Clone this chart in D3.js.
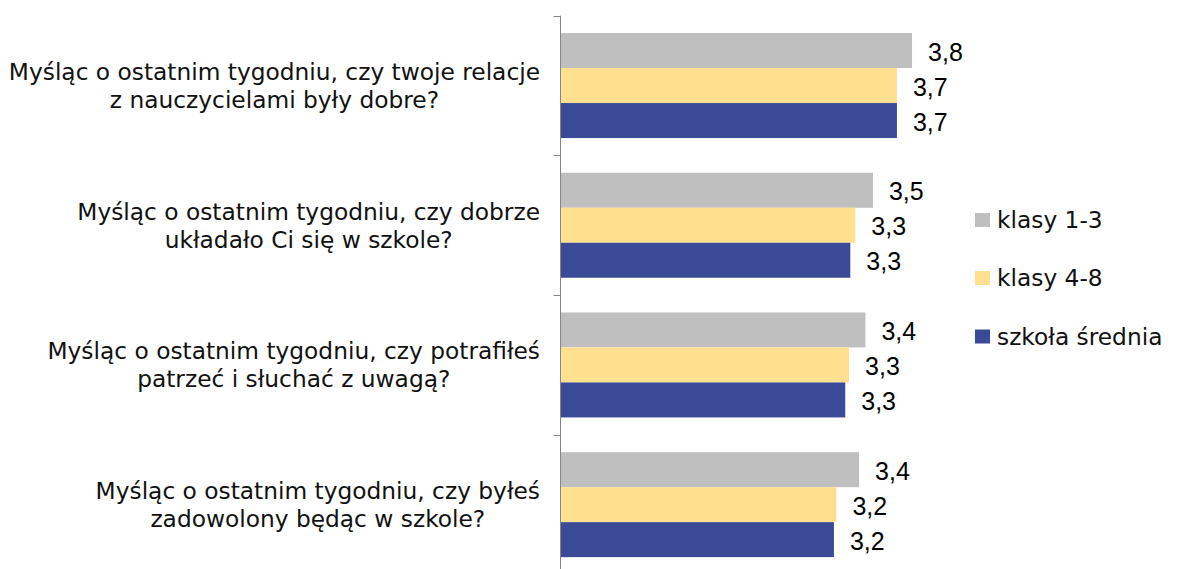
<!DOCTYPE html>
<html>
<head>
<meta charset="utf-8">
<script src="https://cdn.jsdelivr.net/npm/d3@7"></script>
<style>
  html, body { margin: 0; padding: 0; background: #fff; }
  svg { display: block; }
</style>
</head>
<body>
<svg id="chart" width="1178" height="569"></svg>
<script>
// Survey questions (line breaks mark where the label wraps)
const categories = [
  "Myśląc o ostatnim tygodniu, czy twoje relacje\nz nauczycielami były dobre?",
  "Myśląc o ostatnim tygodniu, czy dobrze\nukładało Ci się w szkole?",
  "Myśląc o ostatnim tygodniu, czy potrafiłeś\npatrzeć i słuchać z uwagą?",
  "Myśląc o ostatnim tygodniu, czy byłeś\nzadowolony będąc w szkole?"
];
const seriesNames = ["klasy 1-3", "klasy 4-8", "szkoła średnia"];
const seriesColors = ["#BFBFBF", "#FFE08F", "#3B4A97"];

// Mean scores per question, one array per school level
const klasy13 = [3.79, 3.48, 3.42, 3.37];
const klasy48 = [3.67, 3.34, 3.29, 3.19];
const szkolaSrednia = [3.67, 3.30, 3.26, 3.17];
const seriesValues = [klasy13, klasy48, szkolaSrednia];

const svg = d3.select("#chart");

const plotLeft = 560.5;
const plotTop = 15.7;
const plotBottom = 574.5;

const x = d3.scaleLinear().domain([1, 4]).range([plotLeft, plotLeft + 378]);

const y0 = d3.scaleBand().domain(d3.range(categories.length))
  .range([plotTop, plotBottom]).paddingInner(0).paddingOuter(0);

const y1 = d3.scaleBand().domain(d3.range(seriesNames.length))
  .range([0, y0.bandwidth()]).paddingInner(0).paddingOuter(0.496);

const fmt = v => d3.format(".1f")(v).replace(".", ",");

// Bars and value labels
const groups = svg.append("g").selectAll("g")
  .data(categories.map((c, i) => i))
  .join("g")
  .attr("transform", i => `translate(0,${y0(i)})`);

groups.selectAll("rect")
  .data(i => seriesValues.map((vals, s) => ({ s, v: vals[i] })))
  .join("rect")
  .attr("x", x(1))
  .attr("y", d => y1(d.s))
  .attr("width", d => x(d.v) - x(1))
  .attr("height", y1.bandwidth())
  .attr("fill", d => seriesColors[d.s]);

groups.selectAll("text.val")
  .data(i => seriesValues.map((vals, s) => ({ s, v: vals[i] })))
  .join("text")
  .attr("class", "val")
  .attr("x", d => x(d.v) + 16)
  .attr("y", d => y1(d.s) + y1.bandwidth() / 2)
  .attr("dy", "0.4em")
  .attr("font-family", "Liberation Sans, Arial, sans-serif")
  .attr("font-size", 25)
  .attr("fill", "#000")
  .text(d => fmt(d.v));

// Category axis: vertical line with ticks between categories
const axis = svg.append("g").attr("stroke", "#868686").attr("stroke-width", 1);
axis.append("line")
  .attr("x1", plotLeft).attr("x2", plotLeft)
  .attr("y1", plotTop).attr("y2", plotBottom);
const tickPos = y0.domain().map(i => y0(i)).concat([plotBottom]);
axis.selectAll("line.tick")
  .data(tickPos)
  .join("line")
  .attr("class", "tick")
  .attr("x1", plotLeft - 7).attr("x2", plotLeft)
  .attr("y1", d => Math.round(d) + 0.5).attr("y2", d => Math.round(d) + 0.5);

// Category labels: centered block, right edge aligned next to the axis
const labelRight = 540;
const lineH = 28;
const catG = svg.append("g")
  .attr("font-family", "DejaVu Sans, sans-serif")
  .attr("font-size", 23.3)
  .attr("fill", "#111");

categories.forEach((c, i) => {
  const lines = c.split("\n");
  const t = catG.append("text").attr("text-anchor", "middle");
  const cy = y0(i) + y0.bandwidth() / 2;
  lines.forEach((ln, k) => {
    t.append("tspan")
      .attr("y", cy + (k - (lines.length - 1) / 2) * lineH)
      .attr("dy", "0.36em")
      .text(ln);
  });
  const w = d3.max(t.selectAll("tspan").nodes(), n => n.getComputedTextLength());
  t.selectAll("tspan").attr("x", labelRight - w / 2);
});

// Legend
const legend = svg.append("g")
  .attr("font-family", "DejaVu Sans, sans-serif")
  .attr("font-size", 23.3)
  .attr("fill", "#111");
const legendY = [220, 278, 336.5];
seriesNames.forEach((name, s) => {
  const g = legend.append("g").attr("transform", `translate(975,${legendY[s]})`);
  g.append("rect").attr("x", 0).attr("y", -7).attr("width", 15).attr("height", 14)
    .attr("fill", seriesColors[s]);
  g.append("text").attr("x", 22).attr("y", 0).attr("dy", "0.36em").text(name);
});
</script>
</body>
</html>
